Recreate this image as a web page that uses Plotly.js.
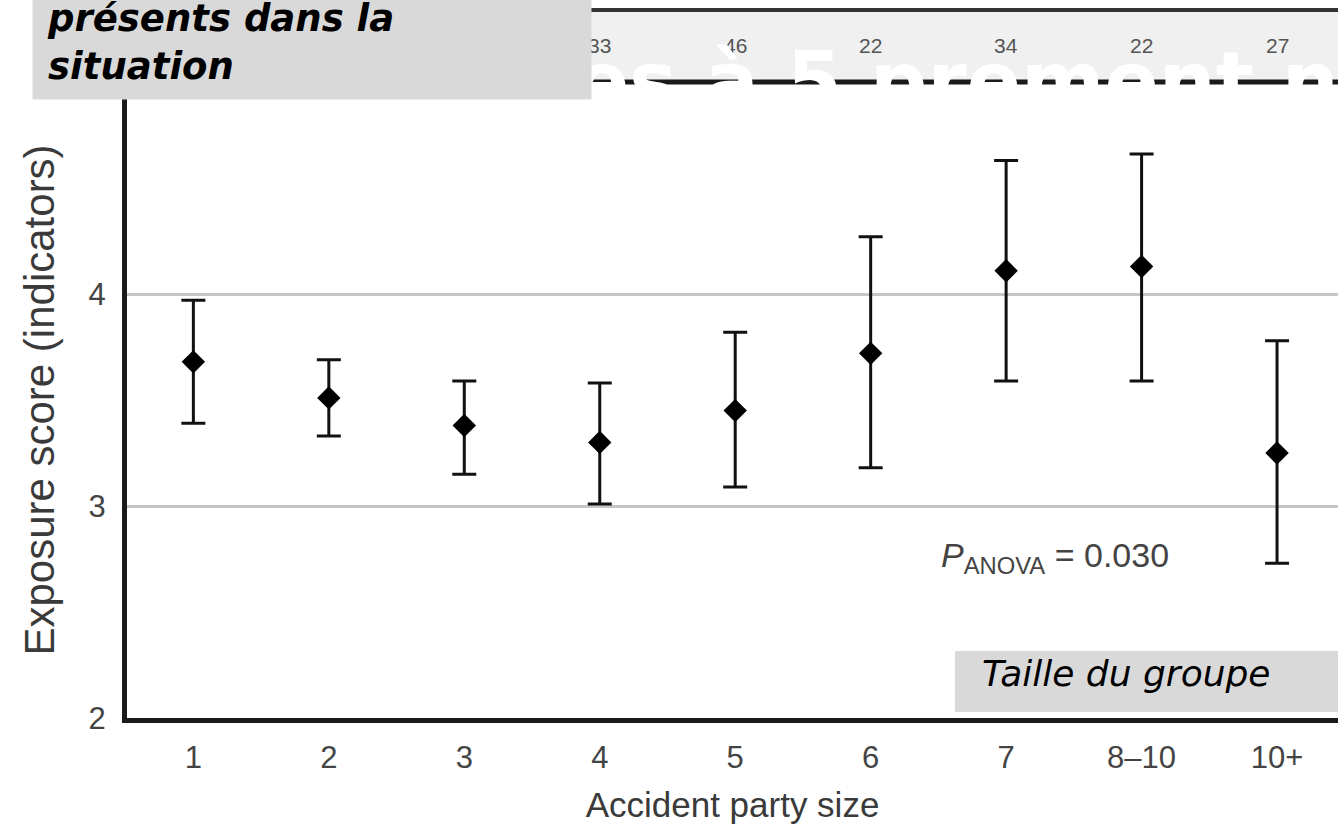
<!DOCTYPE html>
<html>
<head>
<meta charset="utf-8">
<script src="https://cdn.plot.ly/plotly-3.0.1.min.js"></script>
<style>
  html, body { margin: 0; padding: 0; background: #ffffff; }
  #chart { width: 1338px; height: 832px; }
</style>
</head>
<body>
<div id="chart"></div>
<script>
// ---- data ----
const categories = ['1', '2', '3', '4', '5', '6', '7', '8\u201310', '10+'];
const meanScore  = [3.68, 3.51, 3.38, 3.30, 3.45, 3.72, 4.11, 4.13, 3.25];
const upperCI    = [3.97, 3.69, 3.59, 3.58, 3.82, 4.27, 4.63, 4.66, 3.78];
const lowerCI    = [3.39, 3.33, 3.15, 3.01, 3.09, 3.18, 3.59, 3.59, 2.73];
const groupN     = ['', '', '', '33', '46', '22', '34', '22', '27'];
const yTicks     = [2, 3, 4];
const xTitle = 'Accident party size';
const yTitle = 'Exposure score (indicators)';
const pText  = '<i>P</i><sub>ANOVA</sub> = 0.030';
const overlayTitle = 'es \u00e0 5 prement n';
const boxTopText = '<b><i>pr\u00e9sents dans la<br>situation</i></b>';
const boxX = '<i>Taille du groupe</i>';

// ---- geometry helpers (page pixels -> paper) ----
const W = 1338, H = 832;
const M = {l: 127, r: 0, t: 82, b: 114};
const PW = W - M.l - M.r, PH = H - M.t - M.b;
const px = x => (x - M.l) / PW;
const py = y => (H - M.b - y) / PH;

const trace = {
  type: 'scatter',
  mode: 'markers',
  x: categories,
  y: meanScore,
  marker: {symbol: 'diamond', size: 18, color: '#000'},
  error_y: {
    type: 'data', symmetric: false,
    array: upperCI.map((u, i) => u - meanScore[i]),
    arrayminus: lowerCI.map((l, i) => meanScore[i] - l),
    color: '#111', thickness: 3, width: 12
  },
  hoverinfo: 'skip',
  showlegend: false
};

const annotations = [];
// sample sizes in header strip (x given as category index)
groupN.forEach((n, i) => {
  if (n) annotations.push({
    x: i, xref: 'x', y: py(45), yref: 'paper',
    text: n, showarrow: false, xanchor: 'center', yanchor: 'middle',
    font: {family: 'Liberation Sans, Arial, sans-serif', size: 21, color: '#555'}
  });
});
// p-value
annotations.push({
  x: px(1055), xref: 'paper', y: py(557), yref: 'paper',
  text: pText, showarrow: false, xanchor: 'center', yanchor: 'middle',
  font: {family: 'Liberation Sans, Arial, sans-serif', size: 34, color: '#444'}
});
// big white overlay text (partly hidden under grey box)
annotations.push({
  x: px(573), xref: 'paper', y: py(81), yref: 'paper',
  text: overlayTitle, showarrow: false, xanchor: 'left', yanchor: 'middle',
  font: {family: 'DejaVu Sans, sans-serif', size: 80, color: '#ffffff', weight: 'bold'}
});
// grey box top-left with its text (drawn over the white text)
annotations.push({
  x: px(32), xref: 'paper', y: py(100), yref: 'paper',
  text: boxTopText, showarrow: false, xanchor: 'left', yanchor: 'bottom',
  align: 'left', valign: 'middle',
  width: 530, height: 85, borderpad: 14, bgcolor: '#d9d9d9',
  font: {family: 'DejaVu Sans, sans-serif', size: 37, color: '#000'}
});
// text of bottom-right grey box
annotations.push({
  x: px(980), xref: 'paper', y: py(673), yref: 'paper',
  text: boxX, showarrow: false, xanchor: 'left', yanchor: 'middle',
  font: {family: 'DejaVu Sans, sans-serif', size: 36, color: '#000'}
});

const shapes = [
  // faint header strip background
  {type: 'rect', xref: 'paper', yref: 'paper', x0: 0, x1: 1.05, y0: 1, y1: py(10),
   line: {width: 0}, fillcolor: '#f0f0f0', layer: 'below'},
  // plot top frame / header bottom
  {type: 'line', xref: 'paper', yref: 'paper', x0: 0, x1: 1.05, y0: 1, y1: 1,
   line: {color: '#1a1a1a', width: 5}},
  // header top line
  {type: 'line', xref: 'paper', yref: 'paper', x0: 0, x1: 1.05, y0: py(10), y1: py(10),
   line: {color: '#333', width: 4}},
  // header left edge
  {type: 'line', xref: 'paper', yref: 'paper', x0: 0, x1: 0, y0: 1, y1: py(10),
   line: {color: '#333', width: 3}},
  // bottom-right grey box
  {type: 'rect', xref: 'paper', yref: 'paper', x0: px(955), x1: 1.05, y0: py(712), y1: py(651),
   line: {width: 0}, fillcolor: '#d9d9d9', layer: 'above'}
];

const layout = {
  width: W, height: H,
  margin: M,
  paper_bgcolor: '#ffffff',
  plot_bgcolor: '#ffffff',
  showlegend: false,
  font: {family: 'Liberation Sans, Arial, sans-serif', color: '#444'},
  xaxis: {
    type: 'category',
    range: [-0.49, 8.45],
    showline: true, linecolor: '#1a1a1a', linewidth: 5,
    ticks: '', showgrid: false, zeroline: false,
    tickfont: {size: 31, color: '#444'},
    ticklabelstandoff: 8,
    title: {text: xTitle, font: {size: 35, color: '#3a3a3a'}, standoff: 20},
    fixedrange: true
  },
  yaxis: {
    range: [2, 5],
    tickvals: yTicks,
    ticktext: yTicks.map(String),
    showline: true, linecolor: '#1a1a1a', linewidth: 5,
    ticks: '', zeroline: false,
    showgrid: true, gridcolor: '#c6c6c6', gridwidth: 3,
    tickfont: {size: 31, color: '#444'},
    ticklabelstandoff: 10,
    title: {text: yTitle, font: {size: 42, color: '#3a3a3a'}, standoff: 22},
    fixedrange: true
  },
  shapes: shapes,
  annotations: annotations
};

Plotly.newPlot('chart', [trace], layout, {displayModeBar: false, staticPlot: true});
</script>
</body>
</html>
